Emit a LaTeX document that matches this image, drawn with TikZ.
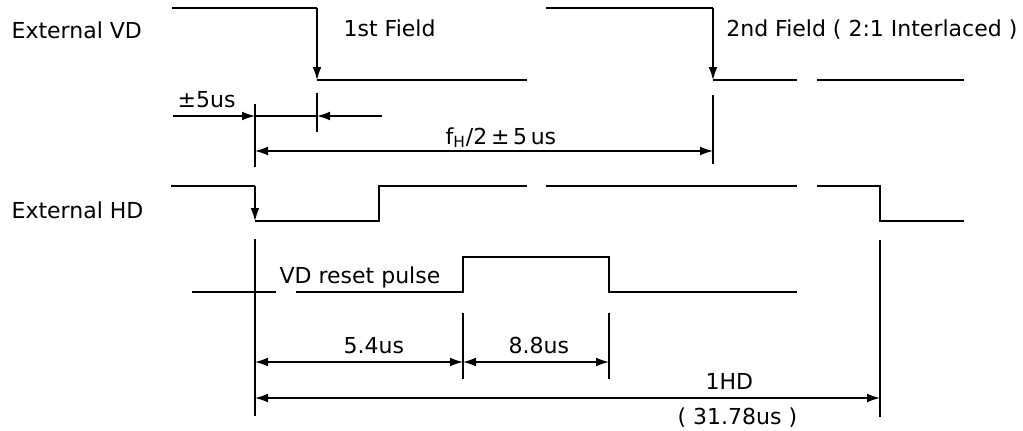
\documentclass[tikz,border=0pt]{standalone}
\usepackage{fontspec}
\setmainfont{DejaVu Sans}
\usetikzlibrary{arrows.meta}

\begin{document}
\begin{tikzpicture}[
    x=0.5pt,y=-0.5pt,
    line width=0.65pt,
    lbl/.style={inner sep=0pt,anchor=base west,font=\fontsize{11}{13}\selectfont},
    >={Latex[length=6.5pt,width=4.4pt]}]
  \useasboundingbox (0,0) rectangle (1023,430);
  \node[lbl] (vdname) at (11,38) {External VD};
  \node[lbl] (hdname) at (11,218) {External HD};
  \node[lbl] (field1) at (343,36) {1st Field};
  \node[lbl,anchor=base east] (field2) at (1018,36) {2nd Field ( 2:1 Interlaced )};
  \node[lbl] (reset) at (279,283) {VD reset pulse};
  \node[lbl] (pm) at (177,107) {±5us};
  \node[lbl] (fhalf) at (445,144) {f\textsubscript{H}/2\,±\,5\,us};
  \node[lbl] (t54) at (343,353) {5.4us};
  \node[lbl] (t88) at (508,353) {8.8us};
  \node[lbl] (hd1) at (705,389) {1HD};
  \node[lbl] (hd1us) at (677,424) {( 31.78us )};

  \coordinate (vdfall1) at (317,80);
  \coordinate (vdfall2) at (713,80);
  \coordinate (hdfall1) at (255,221);
  \coordinate (hdfall2) at (880,221);
  \coordinate (rise) at (463,292);
  \coordinate (fall) at (609,292);

  \draw (172,8) -- (317,8);
  \draw[->] (317,8) -- (vdfall1);
  \draw (vdfall1) -- (527,80);
  \draw (546,8) -- (713,8);
  \draw[->] (713,8) -- (vdfall2);
  \draw (vdfall2) -- (797,80);
  \draw (817,80) -- (964,80);

  \draw (171,186) -- (255,186);
  \draw[->] (255,186) -- (hdfall1);
  \draw (hdfall1) -- (379,221) |- (527,186);
  \draw (546,186) -- (797,186);
  \draw (817,186) -| (hdfall2) -- (964,221);

  \draw (192,292) -- (276,292);
  \draw (296,292) -- (rise) |- (609,257) -- (fall) -- (797,292);

  \draw (317,93) -- (317,132);
  \draw (255,104) -- (255,167);
  \draw (713,95) -- (713,164);
  \draw (255,239) -- (255,416);
  \draw (463,313) -- (463,379);
  \draw (609,313) -- (609,379);
  \draw (880,240) -- (880,417);

  \coordinate (pmL) at (173,116);
  \coordinate (pmA) at (255,116);
  \coordinate (pmB) at (317,116);
  \coordinate (pmR) at (382,116);
  \draw[->] (pmL) -- (pmA);
  \draw (pmA) -- (pmB);
  \draw[->] (pmR) -- (pmB);
  \draw[<->] (255,151) -- (713,151);
  \draw[<->] (255,362) -- (463,362);
  \draw[<->] (463,362) -- (609,362);
  \draw[<->] (255,398) -- (880,398);
\end{tikzpicture}
\end{document}
